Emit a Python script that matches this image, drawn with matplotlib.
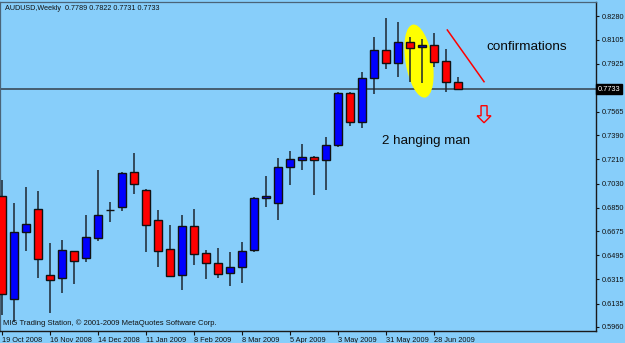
import matplotlib
matplotlib.use('Agg', force=True)

import numpy as np
import matplotlib.pyplot as plt
import matplotlib.patches as mpatches
import matplotlib.transforms as mtransforms

# ---------- fonts ----------
plt.rcParams['font.family'] = ['Liberation Sans', 'DejaVu Sans']

# ---------- weekly AUDUSD data ----------
opens  = [0.6937, 0.6169, 0.6669, 0.6838, 0.6350, 0.6323, 0.6527, 0.6475, 0.6624, 0.6831,
          0.6855, 0.7114, 0.6984, 0.6756, 0.6542, 0.6350, 0.6713, 0.6512, 0.6440, 0.6361,
          0.6405, 0.6532, 0.6920, 0.6883, 0.7151, 0.7208, 0.7226, 0.7204, 0.7320, 0.7708,
          0.7493, 0.7820, 0.8026, 0.7932, 0.8084, 0.8047, 0.8064, 0.7944, 0.7789]
highs  = [0.7057, 0.6885, 0.7007, 0.6975, 0.6587, 0.6609, 0.6530, 0.6795, 0.7131, 0.6895,
          0.7118, 0.7260, 0.6990, 0.6833, 0.6721, 0.6795, 0.6840, 0.6534, 0.6549, 0.6519,
          0.6592, 0.6932, 0.7086, 0.7218, 0.7273, 0.7323, 0.7233, 0.7377, 0.7710, 0.7712,
          0.7866, 0.8121, 0.8265, 0.8235, 0.8126, 0.8106, 0.8151, 0.8034, 0.7822]
lows   = [0.6050, 0.6000, 0.6529, 0.6328, 0.6064, 0.6216, 0.6281, 0.6445, 0.6602, 0.6746,
          0.6825, 0.6950, 0.6522, 0.6408, 0.6333, 0.6236, 0.6422, 0.6320, 0.6328, 0.6264,
          0.6290, 0.6522, 0.6853, 0.6758, 0.7021, 0.7129, 0.6942, 0.6982, 0.7301, 0.7462,
          0.7442, 0.7698, 0.7882, 0.7827, 0.7790, 0.7782, 0.7902, 0.7715, 0.7731]
closes = [0.6206, 0.6671, 0.6731, 0.6467, 0.6311, 0.6537, 0.6452, 0.6631, 0.6795, 0.6831,
          0.7109, 0.7025, 0.6719, 0.6529, 0.6343, 0.6713, 0.6507, 0.6440, 0.6355, 0.6408,
          0.6529, 0.6922, 0.6935, 0.7151, 0.7210, 0.7226, 0.7204, 0.7320, 0.7708, 0.7493,
          0.7820, 0.8029, 0.7932, 0.8084, 0.8044, 0.8066, 0.7939, 0.7785, 0.7733]

date_ticks = [0, 4, 8, 12, 16, 20, 24, 28, 32, 36]
date_labels = ['19 Oct 2008', '16 Nov 2008', '14 Dec 2008', '11 Jan 2009', '8 Feb 2009',
               '8 Mar 2009', '5 Apr 2009', '3 May 2009', '31 May 2009', '28 Jun 2009']
price_ticks = [0.8280, 0.8105, 0.7925, 0.7565, 0.7390, 0.7210, 0.7030, 0.6850,
               0.6675, 0.6495, 0.6315, 0.6135, 0.5960]

last_price = closes[-1]

BG = '#87CEFA'
WICK = '#1c2630'

# ---------- figure ----------
fig = plt.figure(figsize=(6.25, 3.43), dpi=100, facecolor=BG)
ax = fig.add_axes([0.0, 0.035, 0.9536, 0.959])
ax.set_facecolor(BG)

x = np.arange(len(opens))
o = np.array(opens)
c = np.array(closes)
up = c >= o
colors = np.where(up, '#0000FF', '#FF0000')

# wicks + bodies
ax.vlines(x, lows, highs, color=WICK, lw=1.1, zorder=3)
ax.bar(x, np.abs(c - o), bottom=np.minimum(o, c), width=0.64,
       color=colors, edgecolor='#111111', linewidth=1.0, zorder=4)

# current price line
ax.axhline(last_price, color='#3a4a58', lw=1.2, zorder=1)

# yellow ellipse round the two hanging men (drawn in pixel units)
px = mtransforms.Affine2D().scale(1 / 12.0, 0.000746).translate(34.75, 0.7944)
ell = mpatches.Ellipse((0, 0), 27, 74, angle=9.5, facecolor='#FFFF00',
                       edgecolor='none', transform=px + ax.transData, zorder=2)
ax.add_patch(ell)

# red trend line
ax.plot([37.11, 40.17], [0.8176, 0.7790], color='#FF0000', lw=1.1, zorder=5)

# hollow down arrow
ax_x, sw, hw = 40.17, 0.25, 0.58
arrow_pts = [(ax_x - sw, 0.7611), (ax_x + sw, 0.7611), (ax_x + sw, 0.7536),
             (ax_x + hw, 0.7536), (ax_x, 0.7484), (ax_x - hw, 0.7536),
             (ax_x - sw, 0.7536)]
ax.add_patch(mpatches.Polygon(arrow_pts, closed=True, facecolor='none',
                              edgecolor='#FF0000', lw=1.0, zorder=5))

# annotation texts
ax.text(40.39, 0.8051, 'confirmations', fontsize=9.7, color='#0a0a0a',
        va='center', ha='left', zorder=6)
ax.text(31.64, 0.7347, '2 hanging man', fontsize=9.6, color='#0a0a0a',
        va='center', ha='left', zorder=6)

# ---------- axes ----------
ax.set_xlim(-0.1667, 49.5)
ax.set_ylim(0.59301, 0.83844)

ax.set_xticks(date_ticks)
ax.set_xticklabels(date_labels, ha='left', fontsize=5.3, color='#111111')
ax.tick_params(axis='x', direction='out', length=3, width=0.8, pad=1,
               color='#111111')

ax.yaxis.tick_right()
ax.set_yticks(price_ticks)
ax.set_yticklabels([f'{v:.4f}' for v in price_ticks], fontsize=5.3, color='#111111')
ax.tick_params(axis='y', direction='out', length=2.5, width=0.8, pad=1.5,
               color='#111111')

for side in ['top', 'left']:
    ax.spines[side].set_color('#4a6478')
    ax.spines[side].set_linewidth(0.9)
for side in ['bottom', 'right']:
    ax.spines[side].set_color('#1a1a1a')
    ax.spines[side].set_linewidth(1.0)

# current price tag on the right
ax.text(1.003, last_price, f'{last_price:.4f}', transform=ax.get_yaxis_transform(),
        fontsize=5.3, color='white', va='center', ha='left', zorder=7,
        bbox=dict(facecolor='black', edgecolor='black', pad=1.0), clip_on=False)

# header and footer
fig.text(5 / 625, 1 - 8 / 343, 'AUDUSD,Weekly  0.7789 0.7822 0.7731 0.7733',
         fontsize=5.2, color='#111111', va='center', ha='left')
fig.text(3 / 625, 1 - 323 / 343,
         'MIG Trading Station, \u00a9 2001-2009 MetaQuotes Software Corp.',
         fontsize=5.5, color='#111111', va='center', ha='left')

fig.savefig('out.png', dpi=100, facecolor=BG)
